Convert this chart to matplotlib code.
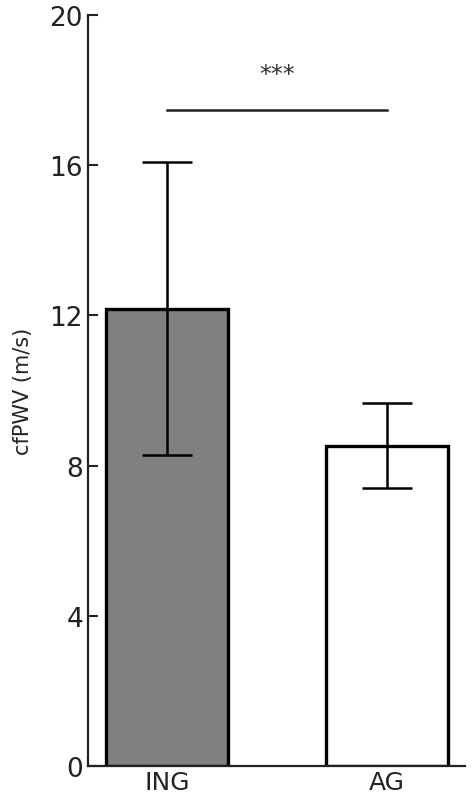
import numpy as np
import matplotlib
matplotlib.use('Agg')
import matplotlib.pyplot as plt

groups = ['ING', 'AG']
means = [12.17, 8.52]
err_low = [8.28, 7.40]
err_high = [16.09, 9.67]
colors = ['#808080', 'white']

fig = plt.figure(figsize=(4.73, 8.04), dpi=100)
ax = fig.add_axes([0.186, 0.046, 0.797, 0.934])

x = np.arange(len(groups))
yerr = [np.array(means) - np.array(err_low), np.array(err_high) - np.array(means)]
ax.bar(x, means, width=0.555, color=colors, edgecolor='black', linewidth=2.4, zorder=2)
ax.errorbar(x, means, yerr=yerr, fmt='none', ecolor='black', elinewidth=1.8,
            capsize=18, capthick=1.8, zorder=3)

# significance bar
ax.plot([0, 1], [17.48, 17.48], color='#222222', lw=1.8)
ax.text(0.5, 18.1, '***', ha='center', va='bottom', fontsize=17, color='#333333')

ax.set_xlim(-0.359, 1.355)
ax.set_ylim(0, 20)
ax.set_yticks([0, 4, 8, 12, 16, 20])
ax.set_xticks(x)
ax.set_xticklabels(groups)
ax.tick_params(direction='in', length=7, width=1.5, labelsize=19,
               colors='#222222', labelcolor='#222222')
ax.tick_params(axis='x', labelsize=18, pad=3)
for s in ['top', 'right']:
    ax.spines[s].set_visible(False)
for s in ['left', 'bottom']:
    ax.spines[s].set_linewidth(1.6)
    ax.spines[s].set_color('#222222')
ax.set_ylabel('cfPWV (m/s)', fontsize=15, labelpad=12, color='#222222')

fig.savefig('out.png', dpi=100)
